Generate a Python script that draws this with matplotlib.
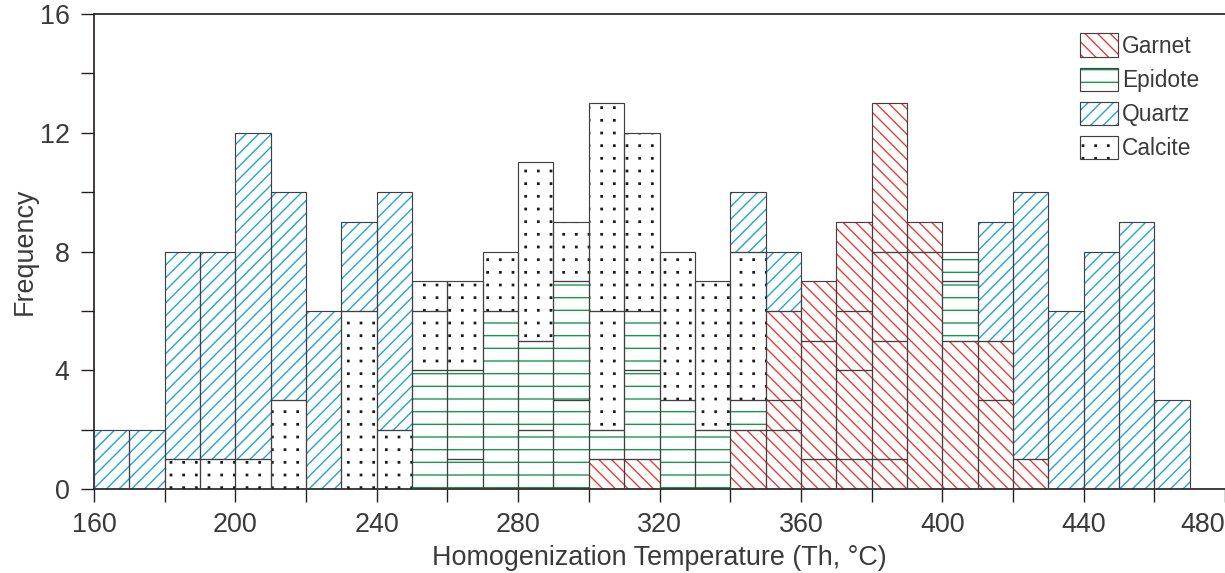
#! /usr/bin/env python

import numpy as np
import matplotlib
matplotlib.use('Agg')
import matplotlib.pyplot as plt
import matplotlib.hatch as mhatch
from matplotlib.path import Path
from matplotlib.patches import Patch

matplotlib.rcParams.update({'font.family': 'Liberation Sans',
                            'hatch.linewidth': 1.3})

# bins of 10 degC, 160 -> 470
bin_left = np.arange(160, 470, 10)

# each list is one stacked layer (sub-population), counts per bin
garnet_a = [0, 0, 0, 0, 0, 0, 0, 0, 0, 0, 0, 0, 0, 0, 1, 1, 0, 0, 2, 2, 1, 1, 1, 8, 5, 3, 1, 0, 0, 0, 0]
garnet_b = [0, 0, 0, 0, 0, 0, 0, 0, 0, 0, 0, 0, 0, 0, 0, 0, 0, 0, 0, 1, 4, 3, 4, 1, 0, 2, 0, 0, 0, 0, 0]
garnet_c = [0, 0, 0, 0, 0, 0, 0, 0, 0, 0, 0, 0, 0, 0, 0, 0, 0, 0, 0, 3, 2, 2, 3, 0, 0, 0, 0, 0, 0, 0, 0]
garnet_d = [0, 0, 0, 0, 0, 0, 0, 0, 0, 0, 0, 0, 0, 0, 0, 0, 0, 0, 0, 0, 0, 3, 5, 0, 0, 0, 0, 0, 0, 0, 0]
epidote_a = [0, 0, 0, 0, 0, 0, 0, 0, 0, 4, 1, 6, 2, 3, 1, 3, 3, 2, 1, 0, 0, 0, 0, 0, 2, 0, 0, 0, 0, 0, 0]
epidote_b = [0, 0, 0, 0, 0, 0, 0, 0, 0, 0, 3, 0, 3, 4, 0, 2, 0, 0, 0, 0, 0, 0, 0, 0, 1, 0, 0, 0, 0, 0, 0]
calcite_a = [0, 0, 1, 1, 1, 3, 0, 6, 2, 2, 3, 2, 6, 2, 4, 6, 5, 5, 5, 0, 0, 0, 0, 0, 0, 0, 0, 0, 0, 0, 0]
calcite_b = [0, 0, 0, 0, 0, 0, 0, 0, 0, 1, 0, 0, 0, 0, 7, 0, 0, 0, 0, 0, 0, 0, 0, 0, 0, 0, 0, 0, 0, 0, 0]
quartz = [2, 2, 7, 7, 11, 7, 6, 3, 8, 0, 0, 0, 0, 0, 0, 0, 0, 0, 2, 2, 0, 0, 0, 0, 0, 4, 9, 6, 8, 9, 3]

LAYERS = [
    ('Garnet', garnet_a), ('Garnet', garnet_b), ('Garnet', garnet_c), ('Garnet', garnet_d),
    ('Epidote', epidote_a), ('Epidote', epidote_b),
    ('Calcite', calcite_a), ('Calcite', calcite_b),
    ('Quartz', quartz),
]

STYLE = {
    'Garnet': ('#ec3b36', '\\\\'),
    'Epidote': ('#139a48', '-'),
    'Quartz': ('#1ba3e3', '//'),
    'Calcite': ('#1a1a1a', '.'),
}
EDGE = '#404040'
TEXT = '#3a3a3a'


class SquareDots(mhatch.HatchPatternBase):
    """'.' hatch as a plain square grid of small dots"""
    def __init__(self, hatch, density):
        self.num_rows = hatch.count('.') * density
        self.num_vertices = self.num_rows ** 2 * 5

    def set_vertices_and_codes(self, vertices, codes):
        n = self.num_rows
        h = 0.009
        sq = np.array([[-h, -h], [h, -h], [h, h], [-h, h], [-h, -h]])
        centers = (np.arange(n) + 0.5) / n
        vertices[:] = np.concatenate([sq + [cx, cy] for cy in centers for cx in centers])
        codes[:] = np.tile([Path.MOVETO, Path.LINETO, Path.LINETO, Path.LINETO,
                            Path.CLOSEPOLY], n * n)


mhatch._hatch_types = [SquareDots if t is mhatch.SmallFilledCircles else t
                       for t in mhatch._hatch_types]


def main():
    dpi = 76
    fig = plt.figure(figsize=(1225 / dpi, 573 / dpi), dpi=dpi)
    ax = fig.add_axes([94 / 1225, 84 / 573, 1131 / 1225, 475 / 573])

    bottom = np.zeros(len(bin_left))
    for name, counts in LAYERS:
        counts = np.asarray(counts, dtype=float)
        keep = counts > 0
        col, hatch = STYLE[name]
        x = bin_left[keep]
        ax.bar(x, counts[keep], width=10, bottom=bottom[keep], align='edge',
               color='white', edgecolor=col, hatch=hatch, linewidth=0, zorder=2)
        ax.bar(x, counts[keep], width=10, bottom=bottom[keep], align='edge',
               fill=False, edgecolor=EDGE, linewidth=1.1, zorder=3)
        bottom += counts

    ax.set_xlim(160, 480)
    ax.set_ylim(0, 16)
    ax.set_xticks(np.arange(160, 481, 40))
    ax.set_xticks(np.arange(160, 481, 20), minor=True)
    ax.set_yticks(np.arange(0, 17, 4))
    ax.set_yticks(np.arange(0, 17, 2), minor=True)
    for which in ['major', 'minor']:
        ax.tick_params(axis='both', which=which, direction='out', length=12,
                       width=1.3, color='#231f20')
    ax.tick_params(axis='x', which='major', pad=10, labelsize=25.5, labelcolor=TEXT)
    ax.tick_params(axis='y', which='major', pad=11, labelsize=25.5, labelcolor=TEXT)
    ax.get_xticklabels()[-1].set_horizontalalignment('right')
    for sp in ax.spines.values():
        sp.set_linewidth(1.6)
        sp.set_color('#231f20')
    ax.spines['right'].set_visible(False)

    ax.set_xlabel('Homogenization Temperature (Th, \u00b0C)', fontsize=25.5,
                  color=TEXT, labelpad=6)
    ax.set_ylabel('Frequency', fontsize=25.5, color=TEXT, labelpad=2)

    handles = []
    for name in ['Garnet', 'Epidote', 'Quartz', 'Calcite']:
        col, hatch = STYLE[name]
        handles.append((Patch(facecolor='white', edgecolor=col, hatch=hatch, linewidth=0),
                        Patch(fill=False, edgecolor=EDGE, linewidth=1.1)))
    ax.legend(handles, ['Garnet', 'Epidote', 'Quartz', 'Calcite'],
              loc='upper left', bbox_to_anchor=(1069 / 1225, 1 - 22 / 573),
              bbox_transform=fig.transFigure, frameon=False, borderpad=0,
              fontsize=21.5, handlelength=1.65, handleheight=1.2,
              handletextpad=0.2, labelspacing=0.44, labelcolor=TEXT)

    fig.savefig('out.png', dpi=dpi)


if __name__ == '__main__':
    main()
